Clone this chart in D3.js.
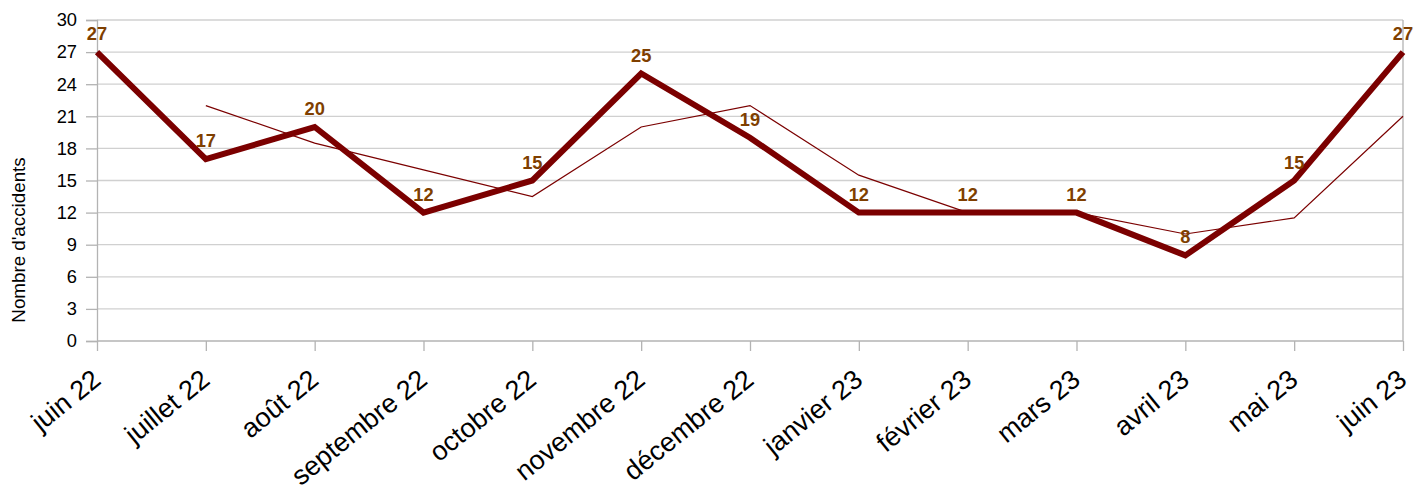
<!DOCTYPE html>
<html><head><meta charset="utf-8">
<script src="https://cdn.jsdelivr.net/npm/d3@7"></script>
<style>body{margin:0;background:#fff;}svg{display:block;font-family:"Liberation Sans",Arial,sans-serif;}</style>
</head><body>
<svg id="c" width="1428" height="493"></svg>
<script>
const categories = ["juin 22","juillet 22","août 22","septembre 22","octobre 22","novembre 22","décembre 22","janvier 23","février 23","mars 23","avril 23","mai 23","juin 23"];
const accidents = [27,17,20,12,15,25,19,12,12,12,8,15,27];
const movingAvg = [null,22,18.5,16,13.5,20,22,15.5,12,12,10,11.5,21];
const yTicks = [0,3,6,9,12,15,18,21,24,27,30];

const svg = d3.select("#c");
const pL = 97, pR = 1403, pT = 20, pB = 341;
const x = d3.scalePoint().domain(categories).range([pL, pR]);
const y = d3.scaleLinear().domain([0,30]).range([pB, pT]);

// grid
svg.append("g").selectAll("line").data(yTicks.filter(d=>d>0)).join("line")
  .attr("x1", pL).attr("x2", pR).attr("y1", d=>y(d)).attr("y2", d=>y(d))
  .attr("stroke", "#d0d0d0").attr("stroke-width", 1.3);

// y axis
const ya = svg.append("g").attr("transform", `translate(${pL},0)`)
  .call(d3.axisLeft(y).tickValues(yTicks).tickSize(11).tickPadding(9));
ya.select(".domain").attr("stroke", "#b3b3b3").attr("stroke-width", 1.3);
ya.selectAll(".tick line").attr("stroke", "#b3b3b3").attr("stroke-width", 1.3);
ya.selectAll("text").attr("font-size", 18.3).attr("fill", "#000").attr("font-family", "Liberation Sans, Arial, sans-serif");

// right border
svg.append("line").attr("x1", pR).attr("x2", pR).attr("y1", pT).attr("y2", pB)
  .attr("stroke", "#b3b3b3").attr("stroke-width", 1.3);

// x axis
const xa = svg.append("g").attr("transform", `translate(0,${pB})`)
  .call(d3.axisBottom(x).tickSize(10).tickSizeOuter(0).tickPadding(6));
xa.select(".domain").attr("stroke", "#b3b3b3").attr("stroke-width", 1.3).attr("d", `M${pL},0H${pR}`);
xa.selectAll(".tick line").attr("stroke", "#b3b3b3").attr("stroke-width", 1.3);
xa.selectAll("text").attr("font-size", 27).attr("fill", "#000")
  .attr("font-family", "Liberation Sans, Arial, sans-serif")
  .attr("text-anchor", "end").attr("dy", null).attr("y", 0)
  .attr("transform", "translate(5,41.5) rotate(-39)");

// y title
svg.append("text").attr("transform", `translate(25,240) rotate(-90)`)
  .attr("text-anchor", "middle").attr("font-size", 18.8).text("Nombre d'accidents");

const lineColor = "#7b0000";
// moving average
svg.append("path").datum(categories.map((c,i)=>[c,movingAvg[i]]).filter(d=>d[1]!==null))
  .attr("fill","none").attr("stroke", lineColor).attr("stroke-width", 1.2)
  .attr("d", d3.line().x(d=>x(d[0])).y(d=>y(d[1])));
// main
svg.append("path").datum(categories.map((c,i)=>[c,accidents[i]]))
  .attr("fill","none").attr("stroke", lineColor).attr("stroke-width", 6).attr("stroke-linejoin","miter")
  .attr("d", d3.line().x(d=>x(d[0])).y(d=>y(d[1])));

// labels
svg.append("g").selectAll("text").data(categories).join("text")
  .attr("x", d=>x(d)).attr("y", (d,i)=>y(accidents[i]) - 12)
  .attr("text-anchor","middle").attr("font-size", 18.3).attr("font-weight","bold")
  .attr("fill", "#7f3f00").text((d,i)=>accidents[i]);
</script>
</body></html>
